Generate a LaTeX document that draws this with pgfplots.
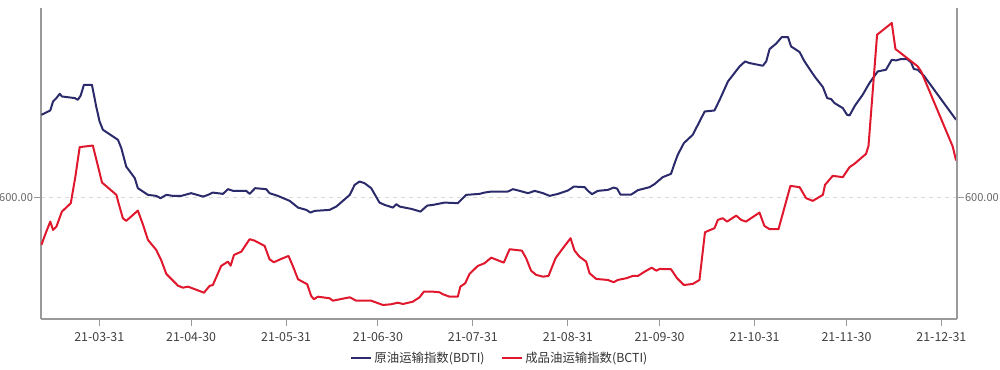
\documentclass[border=0pt]{standalone}
\usepackage{pgfplots}
\pgfplotsset{compat=1.18}
\usepackage{fontspec}
\setmainfont{Noto Sans CJK SC}
\definecolor{bdti}{HTML}{2B2A6B}
\definecolor{bcti}{HTML}{E0182D}
\definecolor{axgray}{HTML}{9A9A9A}
\begin{document}
\begin{tikzpicture}
\useasboundingbox (-30.75pt,-38.25pt) rectangle (719.25pt,239.25pt);
\begin{axis}[
  at={(0,0)}, anchor=south west,
  scale only axis, width=687pt, height=233.25pt,
  xmin=70.97, xmax=370.1, ymin=358, ymax=979.4,
  axis x line*=bottom, axis y line*=left,
  axis line style={-, axgray, line width=0.8pt},
  xtick={90,120,151,181,212,243,273,304,334,365},
  xticklabels={21-03-31,21-04-30,21-05-31,21-06-30,21-07-31,21-08-31,21-09-30,21-10-31,21-11-30,21-12-31},
  ytick={600}, yticklabels={600.00},
  tick align=outside, major tick length=5pt,
  tick style={axgray, line width=0.8pt},
  ymajorgrids, grid style={dashed, black!15, line width=0.6pt},
  x tick label style={font=\fontsize{9.3}{11}\selectfont, text=black!75, yshift=-1.5pt},
  y tick label style={font=\fontsize{8.3}{11}\selectfont, text=black!60, xshift=2.5pt},
  legend style={at={(axis description cs:0.501,-0.125)}, anchor=center, draw=none, fill=none,
    legend columns=2, font=\fontsize{9.3}{11}\selectfont, text=black!80,
    /tikz/every even column/.append style={column sep=10pt}},
  legend image code/.code={\draw[#1, line width=1.5pt] (0pt,0pt) -- (15pt,0pt);},
]
\addplot[bdti, line width=1.5pt, line join=round] coordinates {
(71.1,766) (74.0,774.6) (74.9,792.6) (76.0,799.4) (77.1,808) (77.8,802.6) (82.0,799.4) (83.0,796)
(83.9,804) (85.0,826) (87.6,826) (89.0,782.6) (90.1,752.6) (91.2,736) (96.1,716) (97.2,699.4)
(98.8,662.6) (101.6,639.4) (102.6,619.4) (105.9,606) (108.6,604) (110.0,599.4) (111.9,606) (114.1,604)
(116.8,604) (120.0,609.4) (123.9,602.6) (125.5,606) (127.1,610.6) (130.4,608) (132.0,617.4) (133.7,614)
(138.0,614) (139.1,608) (140.9,619.4) (144.5,617.4) (145.6,609.4) (148.3,604) (152.2,594) (154.9,580.6)
(157.6,576) (159.0,570.6) (160.3,574) (165.2,576) (167.4,582.6) (171.8,606) (173.4,626) (175.0,632.6)
(176.6,629.4) (178.8,619.4) (181.5,590.6) (183.2,586) (185.9,580.6) (187.0,587.4) (188.1,582.6) (191.9,578)
(194.9,572.6) (197.1,584.6) (199.0,586) (202.8,590.6) (207.1,589.4) (209.8,606) (214.2,608) (215.8,610.6)
(218.0,612.6) (223.4,612.6) (225.1,617.4) (227.3,614) (230.0,609.4) (232.2,614) (234.9,609.4) (237.1,604)
(239.8,608) (243.0,614.6) (245.0,622.6) (248.5,621.4) (249.6,614) (250.9,607.4) (252.8,614) (256.1,616)
(258.0,620.6) (259.1,618.6) (260.2,606.6) (263.7,606.6) (265.9,615.4) (269.7,621.4) (271.3,627.4) (274.0,641.4)
(276.7,648) (277.9,669.4) (278.9,686) (280.9,709.4) (283.8,726) (287.7,772.6) (290.9,774.6) (292.6,796)
(295.3,832.6) (299.1,862.6) (300.9,872.6) (302.3,869.4) (306.7,864) (307.8,872.6) (308.9,897.4) (311.0,908)
(312.9,921.4) (314.9,921.4) (315.9,902.6) (318.7,891.4) (320.3,872.6) (323.6,842.6) (326.3,821.4) (327.7,799.4)
(329.0,797.4) (330.1,789.4) (332.8,779.4) (334.2,766) (335.0,764.6) (336.8,784.6) (339.3,806) (341.5,829.4)
(344.2,852.6) (346.9,856) (348.8,876) (350.2,874.6) (351.8,877.4) (353.8,877.4) (355.1,870.6) (356.0,857.4)
(357.3,856) (359.3,844) (369.8,756)
};
\addlegendentry{原油运输指数(BDTI)}
\addplot[bcti, line width=1.5pt, line join=round] coordinates {
(71.1,506) (72.7,532.6) (74.0,552.6) (74.9,536) (76.0,542.6) (77.8,572.6) (80.7,589.4) (82.2,642.6)
(83.6,701.4) (87.9,704.6) (90.9,630.6) (95.6,606) (96.3,589.4) (97.7,559.4) (98.8,554) (102.6,574.6)
(104.3,546) (105.9,516) (108.6,496) (110.2,476) (111.9,448) (114.1,434.6) (115.7,424.6) (117.3,420.6)
(119.0,422.6) (124.2,410.6) (126.0,424) (127.1,426) (129.8,464) (132.0,472.6) (132.9,464.6) (134.0,486)
(136.4,492.6) (139.1,517.4) (140.7,514.6) (144.0,504) (145.6,477.4) (147.0,471.4) (149.4,478) (151.8,484)
(153.2,464) (154.9,437.4) (157.9,427.4) (159.2,404) (160.1,397.4) (161.4,402.6) (165.2,399.4) (166.3,394.6)
(171.8,401.4) (173.9,394.6) (178.8,394.6) (182.6,386) (185.3,387.4) (187.5,390.6) (189.2,388) (192.4,392.6)
(194.6,401.4) (196.0,412.6) (199.0,412.6) (201.1,411.4) (202.2,407.4) (204.4,402.6) (207.1,402.6) (207.9,422.6)
(209.5,429.4) (210.9,448) (213.6,464) (215.8,469.4) (218.0,480.6) (222.1,470.6) (224.0,497.4) (228.0,494.6)
(229.4,479.4) (231.0,454.6) (232.7,446) (234.9,442.6) (236.7,444) (239.0,479.4) (241.4,499.4) (243.9,519.4)
(245.2,494.6) (246.8,482.6) (249.0,472.6) (250.1,449.4) (252.3,438) (256.1,436) (258.0,431.4) (259.3,436)
(262.1,439.4) (264.2,444) (265.9,444) (268.1,452.6) (270.4,460.6) (271.9,454.6) (273.0,458) (276.7,457.4)
(278.7,439.4) (280.9,426) (283.8,428) (286.0,436) (287.8,531.4) (290.9,539.4) (292.0,556) (293.6,559.4)
(295.0,552.6) (298.0,564.6) (299.6,556) (301.2,552.6) (305.6,570.6) (307.2,544) (308.9,537.4) (311.8,537.4)
(315.7,624) (318.7,621.4) (320.8,599.4) (323.0,594) (326.3,606) (327.0,626) (329.5,644) (332.8,641.4)
(335.0,661.4) (336.6,668) (340.4,688) (341.2,704) (344.0,926) (348.8,949.4) (350.0,897.4) (352.4,886)
(357.3,862.6) (358.4,852.6) (368.7,702.6) (369.8,674.6)
};
\addlegendentry{成品油运输指数(BCTI)}
\end{axis}
\begin{axis}[
  at={(0,0)}, anchor=south west,
  scale only axis, width=687pt, height=233.25pt,
  xmin=70.97, xmax=370.1, ymin=358, ymax=979.4,
  hide x axis, axis y line*=right,
  axis line style={-, axgray, line width=0.8pt},
  ytick={600}, yticklabels={600.00},
  tick align=outside, major tick length=5pt,
  tick style={axgray, line width=0.8pt},
  y tick label style={font=\fontsize{8.3}{11}\selectfont, text=black!60, xshift=-2.5pt},
]
\end{axis}
\end{tikzpicture}
\end{document}
